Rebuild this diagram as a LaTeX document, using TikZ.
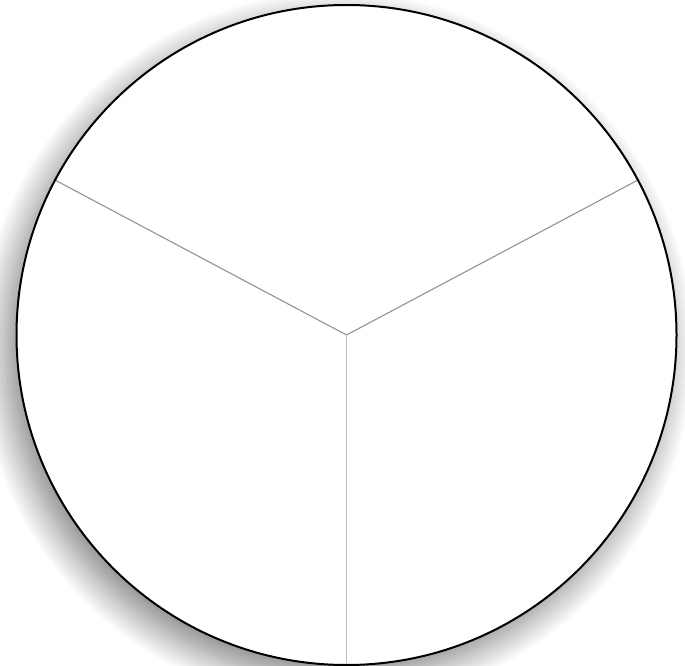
\documentclass[tikz,border=0pt]{standalone}
\usetikzlibrary{calc, shadows.blur}

\begin{document}
\begin{tikzpicture}[x=0.5pt,y=0.5pt]
\useasboundingbox (0,0) rectangle (685,665);
\coordinate (O) at (346.5,330);
\def\rad{330}

% Disc with its soft shadow to the lower left.
\fill[white,blur shadow={shadow xshift=-5pt,shadow yshift=-7pt,shadow blur radius=14pt,
  shadow blur steps=30,shadow opacity=50}]
  (O) circle (\rad);

% Three sectors.
\coordinate (P1) at ($(O)+(152:\rad)$);
\coordinate (P2) at ($(O)+(28:\rad)$);
\coordinate (P3) at ($(O)+(270:\rad)$);
\draw[gray!85,line width=0.55pt] (O)--(P1);
\draw[gray!85,line width=0.55pt] (O)--(P2);
\draw[gray!50,line width=0.7pt] (O)--(P3);

% Outline.
\draw[black,line width=1pt] (O) circle (\rad);
\end{tikzpicture}
\end{document}
